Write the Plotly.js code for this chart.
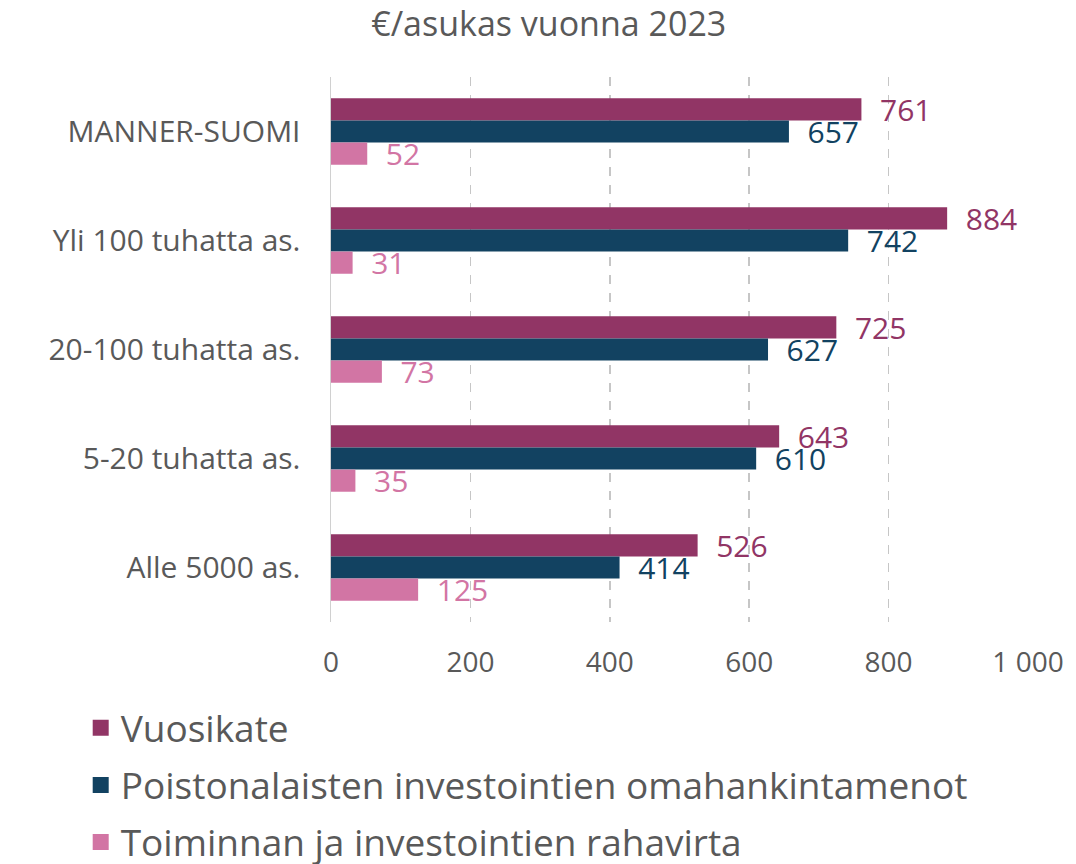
<!DOCTYPE html>
<html><head><meta charset="utf-8">
<script src="https://cdn.plot.ly/plotly-3.0.1.min.js"></script>
<style>html,body{margin:0;padding:0;background:#fff}#chart{width:1076px;height:864px}</style>
</head><body><div id="chart"></div>
<script>
const categories = ["MANNER-SUOMI", "Yli 100 tuhatta as.", "20-100 tuhatta as.", "5-20 tuhatta as.", "Alle 5000 as."];
const seriesNames = ["Vuosikate", "Poistonalaisten investointien omahankintamenot", "Toiminnan ja investointien rahavirta"];
const vuosikate = [761, 884, 725, 643, 526];
const omahankinta = [657, 742, 627, 610, 414];
const rahavirta = [52, 31, 73, 35, 125];
const colors = ["#913565", "#124261", "#D275A4"];
const xTicks = [0, 200, 400, 600, 800, 1000];
const xTickLabels = ["0", "200", "400", "600", "800", "1 000"];

const FONT = "'Open Sans', sans-serif";
const series = [vuosikate, omahankinta, rahavirta];
const bars = series.map((vals, i) => ({
  type: "bar", orientation: "h", name: seriesNames[i], legendgroup: "g" + i, showlegend: false,
  x: vals, y: categories,
  marker: {color: colors[i]},
  text: vals.map(v => "  " + v), textposition: "outside",
  textfont: {color: colors[i], size: 30, family: FONT},
  constraintext: "none", cliponaxis: false,
  hoverinfo: "x+name"
}));
// legend entries with larger square swatches
const legendItems = series.map((vals, i) => ({
  type: "scatter", mode: "markers", name: seriesNames[i], legendgroup: "g" + i, showlegend: true,
  x: [null], y: [categories[0]],
  marker: {color: colors[i], symbol: "square", size: 20}, hoverinfo: "skip"
}));

const layout = {
  width: 1076, height: 864,
  margin: {l: 331, r: 48, t: 77, b: 242, autoexpand: false},
  paper_bgcolor: "#fff", plot_bgcolor: "#fff",
  font: {family: FONT, color: "#595959"},
  title: {text: "€/asukas vuonna 2023", font: {size: 34, color: "#595959", family: FONT}, xref: "container", x: 0.51, y: 0.972, yanchor: "middle"},
  barmode: "group", bargap: 0.39, bargroupgap: 0,
  xaxis: {range: [0, 1000], tickvals: xTicks, ticktext: xTickLabels, tickfont: {size: 28, color: "#595959"},
    showgrid: true, gridcolor: "#c6c6c6", griddash: "dash", gridwidth: 1.5, zeroline: false, automargin: false,
    showline: false, ticks: "", ticklabelstandoff: 21, tickangle: 0, fixedrange: true},
  yaxis: {autorange: "reversed", type: "category", categoryarray: categories, tickfont: {size: 30, color: "#595959"}, automargin: false,
    showline: true, linecolor: "#d0d0d0", linewidth: 1.5, ticks: "", ticklabelstandoff: 23, showgrid: false},
  showlegend: true,
  legend: {orientation: "v", xref: "container", yref: "container", x: 0.075, y: 0.193, xanchor: "left", yanchor: "top",
    font: {size: 37, color: "#595959", family: FONT}, traceorder: "grouped", itemwidth: 30, tracegroupgap: 6}
};
Plotly.newPlot("chart", bars.concat(legendItems), layout, {displayModeBar: false, staticPlot: true});
</script></body></html>
